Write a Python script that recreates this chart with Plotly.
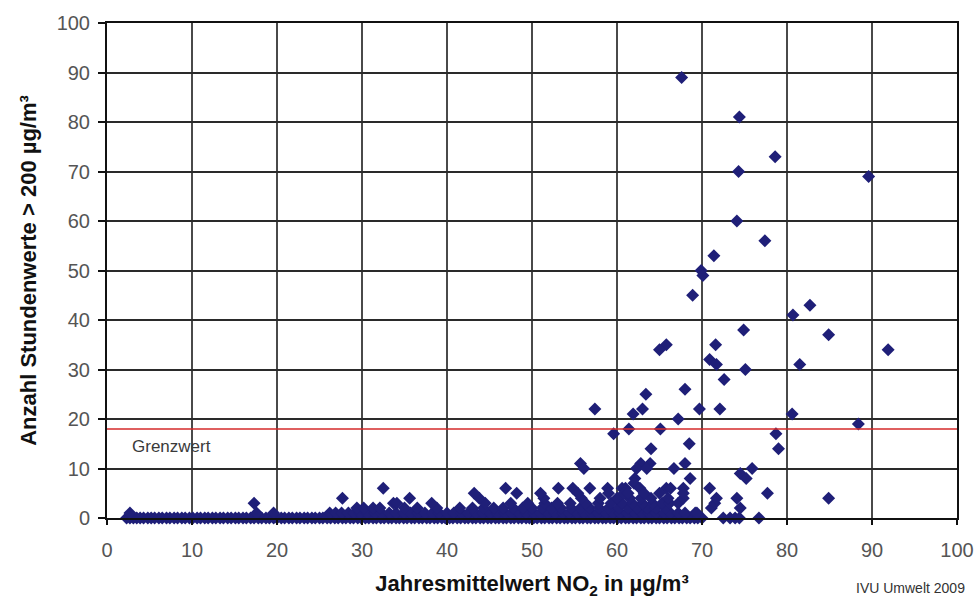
import plotly.graph_objects as go

# --- Data ---
# Stations with 0 exceedance hours (x = annual mean NO2)
x_at_0 = [2.3, 2.7, 3.1, 3.5, 3.9, 4.3, 4.8, 5.2, 5.6, 6.1, 6.5, 7.0, 7.4, 7.9, 8.3, 8.8, 9.2, 9.7,
          10.1, 10.6, 11.0, 11.5, 11.9, 12.4, 12.8, 13.3, 13.7, 14.2, 14.6, 15.1, 15.5, 16.0, 16.4,
          16.9, 17.3, 17.8, 18.2, 18.7, 19.1, 19.6, 20.0, 20.5, 20.9, 21.4, 21.8, 22.3, 22.7, 23.2,
          23.6, 24.1, 24.5, 25.0, 25.4, 25.9, 26.3, 26.8, 27.2, 27.7, 28.1, 28.6, 29.0, 29.5, 29.9,
          30.4, 30.8, 31.3, 31.7, 32.2, 32.6, 33.1, 33.5, 34.0, 34.4, 34.9, 35.3, 35.8, 36.2, 36.7,
          37.1, 37.6, 38.0, 38.5, 38.9, 39.4, 39.8, 40.3, 40.7, 41.2, 41.6, 42.1, 42.5, 43.0, 43.4,
          43.9, 44.3, 44.8, 45.2, 45.7, 46.1, 46.6, 47.0, 47.5, 47.9, 48.4, 48.8, 49.3, 49.7, 50.2,
          50.6, 51.1, 51.5, 52.0, 52.4, 52.9, 53.3, 53.8, 54.2, 54.7, 55.1, 55.6, 56.0, 56.5, 56.9,
          57.4, 57.8, 58.3, 58.7, 59.2, 59.6, 60.1, 60.5, 61.0, 61.4, 61.9, 62.3, 62.8, 63.2, 63.7,
          64.1, 64.6, 65.0, 65.5, 65.9, 66.4, 66.8, 67.3, 67.7, 68.2, 68.6, 69.1, 69.5, 70.0,
          72.5, 73.3, 73.9, 74.4, 76.7]
x_at_1 = [2.7, 17.6, 19.6, 26.2, 26.9, 27.6, 28.4, 29.1, 29.8, 30.6, 31.5, 32.3, 33.2, 34.0, 34.9,
          35.7, 36.6, 37.4, 38.3, 39.1, 40.0, 40.8, 41.7, 42.5, 43.4, 44.2, 45.1, 45.9, 46.8, 47.6,
          48.5, 49.3, 50.2, 51.0, 51.9, 52.7, 53.6, 54.4, 55.3, 56.1, 57.0, 57.8, 58.7, 59.5, 60.4,
          61.2, 62.1, 62.9, 63.8, 64.6, 65.5, 66.3, 67.2, 68.0, 69.2, 69.4]
x_at_2 = [29.4, 30.2, 31.3, 32.1, 35.0, 36.5, 38.8, 41.5, 43.0, 44.3, 45.5, 46.6, 47.8, 48.9, 50.0,
          51.2, 52.3, 53.4, 54.6, 55.7, 56.8, 57.9, 59.0, 60.2, 61.3, 62.4, 63.5, 64.6, 65.7, 71.1,
          74.5]
x_at_3 = [17.3, 33.7, 34.1, 38.2, 44.5, 47.5, 49.5, 51.5, 53.0, 54.5, 56.3, 57.8, 59.3, 60.6, 61.8,
          63.0, 64.2, 65.3, 66.2, 67.2, 71.5]
x_at_4 = [27.7, 35.6, 43.8, 51.4, 55.8, 58.0, 60.0, 61.5, 62.8, 64.0, 66.0, 67.8, 71.7, 74.1, 84.9]

# Stations with 5 or more exceedance hours
x_sparse = [67.6, 74.4, 78.6, 74.3, 89.6, 74.1, 77.4, 71.4, 69.9, 70.1, 68.9, 82.7, 80.7, 74.9,
            84.9, 65.8, 71.6, 65.0, 91.9, 70.9, 71.7, 81.5, 75.1, 72.6, 68.0, 63.4, 57.4, 63.0,
            69.7, 72.1, 61.9, 80.6, 67.2, 88.4, 61.4, 65.1, 59.6, 78.7, 68.5, 64.0, 79.0,
            55.7, 62.8, 63.9, 68.0, 56.1, 62.3, 63.5, 66.7, 75.9, 74.5, 75.2, 62.1, 68.6, 62.0,
            32.5, 46.9, 53.1, 54.8, 56.8, 58.9, 61.0, 62.7, 65.8, 66.3, 67.8, 70.9, 60.6,
            43.2, 48.2, 51.0, 55.4, 59.0, 60.8, 63.2, 65.0, 67.8, 77.7, 61.3]
y_sparse = [89, 81, 73, 70, 69, 60, 56, 53, 50, 49, 45, 43, 41, 38,
            37, 35, 35, 34, 34, 32, 31, 31, 30, 28, 26, 25, 22, 22,
            22, 22, 21, 21, 20, 19, 18, 18, 17, 17, 15, 14, 14,
            11, 11, 11, 11, 10, 10, 10, 10, 10, 9, 8, 8, 8, 7,
            6, 6, 6, 6, 6, 6, 6, 6, 6, 6, 6, 6, 6,
            5, 5, 5, 5, 5, 5, 5, 5, 5, 5, 5]

limit_value = 18
tick_vals = [0, 10, 20, 30, 40, 50, 60, 70, 80, 90, 100]

xs = x_at_0 + x_at_1 + x_at_2 + x_at_3 + x_at_4 + x_sparse
ys = ([0] * len(x_at_0) + [1] * len(x_at_1) + [2] * len(x_at_2) + [3] * len(x_at_3)
      + [4] * len(x_at_4) + y_sparse)

fig = go.Figure()
fig.add_trace(go.Scatter(
    x=xs, y=ys, mode="markers",
    marker=dict(symbol="diamond", size=10, color="#1f1f78", line=dict(width=0)),
    cliponaxis=False, showlegend=False, hoverinfo="x+y"))

fig.add_shape(type="line", xref="x", yref="y", x0=0, x1=100, y0=limit_value, y1=limit_value,
              line=dict(color="#d42a2a", width=1.5), layer="above")

fig.add_annotation(x=2.7, y=14.5, xref="x", yref="y", text="Grenzwert", showarrow=False,
                   xanchor="left", yanchor="middle",
                   font=dict(family="Liberation Sans, Arial", size=17, color="#3a3a3a"))
fig.add_annotation(x=1.0, y=0.0, xref="paper", yref="paper", xshift=10, yshift=-70,
                   text="IVU Umwelt 2009", showarrow=False, xanchor="right", yanchor="middle",
                   font=dict(family="Liberation Sans, Arial", size=14, color="#333333"))

axis_font = dict(family="Liberation Sans, Arial", size=20, color="#555555")
title_font = dict(family="Liberation Sans, Arial", size=22, color="#111111")

fig.update_xaxes(range=[0, 100], tickvals=tick_vals, showgrid=True, gridcolor="#4a4a4a",
                 gridwidth=2, showline=True, linecolor="#111111", linewidth=2, mirror=True,
                 ticks="outside", ticklen=5, tickcolor="#111111", tickwidth=1.5,
                 tickfont=axis_font, ticklabelstandoff=8, zeroline=False, automargin=False,
                 title=dict(text="<b>Jahresmittelwert NO<sub>2</sub> in µg/m³</b>",
                            font=title_font, standoff=16))
fig.update_yaxes(range=[0, 100], tickvals=tick_vals, showgrid=True, gridcolor="#2a2a2a",
                 gridwidth=2, showline=True, linecolor="#111111", linewidth=2, mirror=True,
                 ticks="outside", ticklen=7, tickcolor="#111111", tickwidth=1.5,
                 tickfont=axis_font, ticklabelstandoff=4, zeroline=False, automargin=False,
                 title=dict(text="<b>Anzahl Stundenwerte &gt; 200 µg/m³</b>",
                            font=title_font, standoff=14))

fig.update_layout(width=980, height=600, margin=dict(l=107, r=23, t=23, b=82),
                  plot_bgcolor="white", paper_bgcolor="white")

fig.write_html("out.html")
